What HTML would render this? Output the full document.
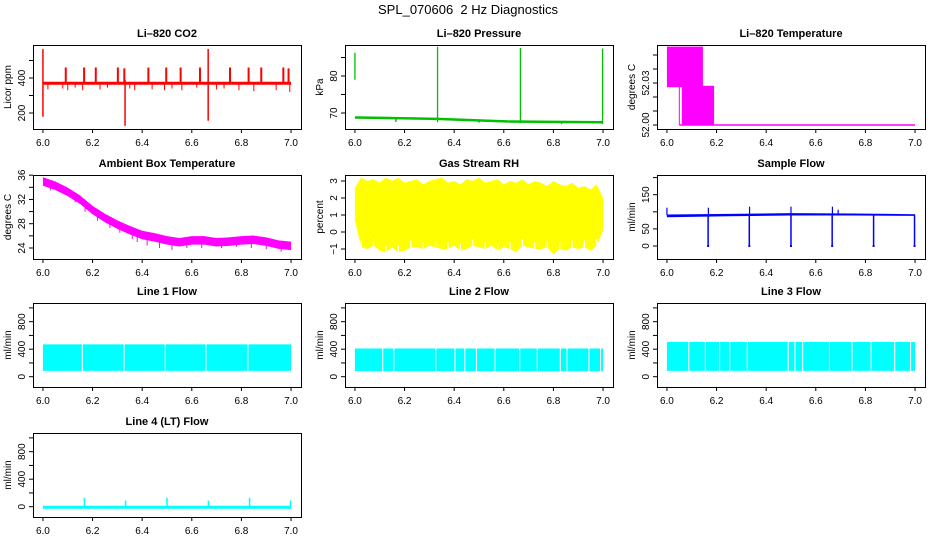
<!DOCTYPE html>
<html><head><meta charset="utf-8"><style>
html,body{margin:0;padding:0;background:#fff;}
svg{display:block;font-family:"Liberation Sans",Arial,sans-serif;}
</style></head><body>
<svg id="chart" width="936" height="540" viewBox="0 0 936 540" xmlns="http://www.w3.org/2000/svg">
<text x="468" y="14" text-anchor="middle" font-size="13" style="white-space:pre" xml:space="preserve">SPL_070606  2 Hz Diagnostics</text>
</svg>
<script>
// ---------- data ----------
const xTicks=[6.0,6.2,6.4,6.6,6.8,7.0];
const xTickLabels=["6.0","6.2","6.4","6.6","6.8","7.0"];
// CO2
const co2Base=370;
const co2UpX=[6.092,6.166,6.213,6.302,6.328,6.425,6.497,6.555,6.633,6.754,6.829,6.880,6.969,6.990];
const co2UpV=[460,460,460,460,455,460,460,460,460,460,460,460,460,455];
const co2DownX=[6.02,6.08,6.10,6.13,6.16,6.23,6.26,6.35,6.37,6.44,6.49,6.52,6.56,6.62,6.70,6.73,6.79,6.85,6.94,6.995];
const co2DownV=[335,340,330,345,330,335,345,340,330,335,330,340,330,345,335,340,330,325,330,320];
const co2BigX=[6.0,6.331,6.666];
const co2BigLo=[179,127,156];
const co2BigHi=[565,390,566];
// Pressure
const presBaseX=[6.0,6.33,6.62,7.0];
const presBaseV=[68.8,68.4,67.7,67.5];
const presSpikeX=[6.0,6.333,6.667,6.998];
const presSpikeLo=[79,67.5,67.3,67.0];
const presSpikeHi=[86.3,87.9,87.6,87.4];
const presDipX=[6.165,6.5,6.833];
const presDipV=[67.6,67.4,67.0];
// Li-820 temperature
const tempBlockX0=[6.0,6.06];
const tempBlockX1=[6.145,6.19];
const tempBlockLo=[52.027,52.0];
const tempBlockHi=[52.056,52.028];
const tempFlat=52.0;
// Ambient box temperature
const ambX=[6.0,6.05,6.1,6.15,6.2,6.25,6.3,6.35,6.4,6.45,6.5,6.55,6.6,6.65,6.7,6.75,6.8,6.85,6.9,6.95,7.0];
const ambV=[35.0,34.3,33.3,32.0,30.3,29.0,27.9,27.0,26.2,25.8,25.3,25.0,25.3,25.3,25.0,25.1,25.3,25.4,25.1,24.6,24.4];
const ambDipX=[6.03,6.13,6.17,6.22,6.27,6.31,6.36,6.38,6.42,6.47,6.52,6.58,6.64,6.72,6.78,6.84,6.9,6.96];
const ambDipV=[33.5,31.5,30.0,28.5,27.3,26.5,25.5,25.0,24.4,24.0,23.7,24.0,24.0,24.0,24.2,24.0,23.8,23.4];
// Gas stream RH
const rhX=[6.0,6.025,6.05,6.075,6.1,6.125,6.15,6.175,6.2,6.225,6.25,6.275,6.3,6.325,6.35,6.375,6.4,6.425,6.45,6.475,6.5,6.525,6.55,6.575,6.6,6.625,6.65,6.675,6.7,6.725,6.75,6.775,6.8,6.825,6.85,6.875,6.9,6.925,6.95,6.975,7.0];
const rhHi=[2.6,3.2,3.0,3.1,2.9,3.2,3.0,3.2,2.9,3.0,3.1,2.8,3.0,3.1,3.2,2.9,3.0,2.8,3.1,3.0,3.2,2.9,3.0,3.1,2.8,3.0,2.9,3.1,2.8,3.0,2.9,2.7,3.0,2.8,2.7,2.9,2.6,2.7,2.5,2.8,2.0];
const rhLo=[0.7,-0.9,-1.0,-0.8,-1.1,-1.2,-0.9,-1.2,-1.1,-0.9,-0.9,-1.0,-0.8,-0.9,-1.0,-1.0,-0.8,-1.1,-1.0,-0.8,-0.9,-1.0,-0.8,-1.1,-0.9,-1.0,-1.2,-0.8,-0.9,-1.0,-1.0,-0.9,-1.3,-1.0,-1.1,-0.9,-1.0,-0.9,-1.1,-0.8,0.1];
// Sample flow
const sfX=[6.0,6.25,6.5,6.75,7.0];
const sfLo=[84,87,89,89,88];
const sfHi=[92,94,96,95,93];
const sfDropX=[6.166,6.332,6.5,6.666,6.833,6.998];
const sfSpikeX=[6.0,6.167,6.333,6.5,6.667,6.69];
const sfSpikeV=[112,112,115,115,115,106];
// Line flows (band low/high and gap positions)
const l1Lo=85, l1Hi=470;
const l1Gaps=[6.159,6.327,6.493,6.657,6.826];
const l2Lo=80, l2Hi=410;
const l2Gaps=[6.112,6.157,6.326,6.403,6.443,6.49,6.565,6.664,6.735,6.828,6.855,6.943,6.99];
const l3Lo=85, l3Hi=505;
const l3Gaps=[6.088,6.155,6.212,6.253,6.324,6.489,6.516,6.547,6.655,6.746,6.823,6.918,6.982];
// Line 4
const l4Base=-8;
const l4SpikeX=[6.167,6.333,6.5,6.667,6.833,6.998];
const l4SpikeV=[130,90,130,90,130,90];

// ---------- layout ----------
const NS="http://www.w3.org/2000/svg";
const svg=document.getElementById('chart');
const colX=[33,345,657], rowY=[45,175,303,433], BW=268, BH=84;
function mk(tag,attrs,parent){const e=document.createElementNS(NS,tag);for(const k in attrs)e.setAttribute(k,attrs[k]);(parent||svg).appendChild(e);return e;}
let clipN=0;
function panel(r,c,title,ylab,v0,rel0,k,ticks,labels,name){
  const bx=colX[c], by=rowY[r];
  const g=mk('g',{});
  
  
  const X=v=>bx+9.93+(v-6)*248.1;
  const Y=v=>by+rel0-(v-v0)*k;
  const id='clip'+(clipN++);
  const cp=mk('clipPath',{id:id},g);mk('rect',{x:bx,y:by,width:BW,height:BH},cp);
  const plot=mk('g',{'clip-path':'url(#'+id+')'},g);
  
  
  const box=mk('rect',{x:bx+.5,y:by+.5,width:BW,height:BH,fill:'none',stroke:'#000','stroke-width':1},g);
  
  
  const t=mk('text',{x:bx+BW/2,y:by-8,'text-anchor':'middle','font-size':11,'font-weight':'bold'},g);t.textContent=title;
  
  
  xTicks.forEach((v,i)=>{const x=X(v);mk('line',{x1:x,x2:x,y1:by+BH,y2:by+BH+4,stroke:'#000'},g);
    const tl=mk('text',{x:x,y:by+BH+17,'text-anchor':'middle','font-size':10},g);tl.textContent=xTickLabels[i];
    
    });
  ticks.forEach(v=>{const y=Y(v);mk('line',{x1:bx-4,x2:bx,y1:y,y2:y,stroke:'#000'},g);});
  labels.forEach(l=>{const y=Y(l[0]);const tl=mk('text',{x:0,y:0,'text-anchor':'middle','font-size':10,transform:'translate('+(bx-8)+','+y+') rotate(-90)'},g);tl.textContent=l[1];
    
    });
  const yl=mk('text',{x:0,y:0,'text-anchor':'middle','font-size':10,transform:'translate('+(bx-22)+','+(by+BH/2)+') rotate(-90)'},g);yl.textContent=ylab;
  
  
  return {X,Y,g:plot};
}
function seg(p,x1,y1,x2,y2,col,w){return mk('line',{x1:p.X(x1),y1:p.Y(y1),x2:p.X(x2),y2:p.Y(y2),stroke:col,'stroke-width':w||1},p.g);}
function band(p,xs,lo,hi,col){let pts=xs.map((x,i)=>p.X(x)+','+p.Y(hi[i]));for(let i=xs.length-1;i>=0;i--)pts.push(p.X(xs[i])+','+p.Y(lo[i]));return mk('polygon',{points:pts.join(' '),fill:col},p.g);}
function rectV(p,x0,x1,lo,hi,col){return mk('rect',{x:p.X(x0),y:p.Y(hi),width:p.X(x1)-p.X(x0),height:p.Y(lo)-p.Y(hi),fill:col},p.g);}

// ---------- CO2 ----------
{const p=panel(0,0,'Li\u2013820 CO2','Licor ppm',400,33,0.175,[200,300,400,500],[[200,'200'],[400,'400']],'co2');
 const R='#ff0000';
 seg(p,6.0,co2Base,7.0,co2Base,R,3);
 co2UpX.forEach((x,i)=>{const s=seg(p,x,co2Base,x,co2UpV[i],R,2);});
 co2DownX.forEach((x,i)=>{const s=seg(p,x,co2Base,x,co2DownV[i],R,1);});
 co2BigX.forEach((x,i)=>{const s=seg(p,x,co2BigLo[i],x,co2BigHi[i],R,1.5);});}

// ---------- Pressure ----------
{const p=panel(0,1,'Li\u2013820 Pressure','kPa',70,68,3.7,[70,75,80,85],[[70,'70'],[80,'80']],'pressure');
 const G='#00c000';
 for(let i=0;i<presBaseX.length-1;i++)seg(p,presBaseX[i],presBaseV[i],presBaseX[i+1],presBaseV[i+1],G,2.5);
 presSpikeX.forEach((x,i)=>{const s=seg(p,x,presSpikeLo[i],x,presSpikeHi[i],G,1.3);});
 presDipX.forEach((x,i)=>{seg(p,x,presDipV[i]+0.8,x,presDipV[i],G,1.5);});}

// ---------- Li-820 temperature ----------
{const p=panel(0,2,'Li\u2013820 Temperature','degrees C',52.0,80,1400,[52.0,52.01,52.02,52.03,52.04,52.05],[[52.0,'52.00'],[52.03,'52.03']],'li820-temp');
 const M='#ff00ff';
 tempBlockX0.forEach((x,i)=>{const r=rectV(p,x,tempBlockX1[i],tempBlockLo[i],tempBlockHi[i],M);});
 seg(p,6.05,tempFlat,6.05,52.028,M,1);
 seg(p,6.05,tempFlat,7.0,tempFlat,M,1.5);}

// ---------- Ambient ----------
{const p=panel(1,0,'Ambient Box Temperature','degrees C',24,73,6.07,[24,26,28,30,32,34,36],[[24,'24'],[28,'28'],[32,'32'],[36,'36']],'ambient-temp');
 const M='#ff00ff';
 const b=band(p,ambX,ambV.map(v=>v-0.75),ambV.map(v=>v+0.65),M);
 
 ambDipX.forEach((x,i)=>{const c=ambV[Math.round((x-6)/0.05)];seg(p,x,c,x,ambDipV[i],M,1);});}

// ---------- RH ----------
{const p=panel(1,1,'Gas Stream RH','percent',0,57,17,[-1,0,1,2,3],[[-1,'\u22121'],[0,'0'],[1,'1'],[2,'2'],[3,'3']],'rh');
 const b=band(p,rhX,rhLo,rhHi,'#ffff00');
 
 rhX.forEach((x,i)=>{if(i%2)seg(p,x,rhLo[i],x,rhLo[i]+0.4,'#fff',1.2);});}

// ---------- Sample flow ----------
{const p=panel(1,2,'Sample Flow','ml/min',0,71,0.342,[0,50,100,150,200],[[0,'0'],[50,'50'],[150,'150']],'sample-flow');
 const B='#0000ff';
 const b=band(p,sfX,sfLo,sfHi,B);
 sfDropX.forEach(x=>{const s=seg(p,x,90,x,0,B,1.5);seg(p,x-0.004,0,x+0.004,0,B,2);});
 sfSpikeX.forEach((x,i)=>seg(p,x,90,x,sfSpikeV[i],B,1.2));}

// ---------- Line flows ----------
function linePanel(r,c,title,lo,hi,gaps,name){
 const p=panel(r,c,title,'ml/min',0,73.7,0.0688,[0,200,400,600,800,1000],[[0,'0'],[400,'400'],[800,'800']],name);
 const C='#00ffff';
 const b=rectV(p,6.0,7.0,lo,hi,C);
 gaps.forEach(x=>{const s=seg(p,x,lo-20,x,hi+20,'#fff',1.1);});
 return p;}
linePanel(2,0,'Line 1 Flow',l1Lo,l1Hi,l1Gaps,'line1-flow');
linePanel(2,1,'Line 2 Flow',l2Lo,l2Hi,l2Gaps,'line2-flow');
linePanel(2,2,'Line 3 Flow',l3Lo,l3Hi,l3Gaps,'line3-flow');
{const p=panel(3,0,'Line 4 (LT) Flow','ml/min',0,73.7,0.0688,[0,200,400,600,800,1000],[[0,'0'],[400,'400'],[800,'800']],'line4-flow');
 const C='#00ffff';
 const s=seg(p,6.0,l4Base,7.0,l4Base,C,3);
 l4SpikeX.forEach((x,i)=>{const q=seg(p,x,l4Base,x,l4SpikeV[i],C,1.5);});}
</script>
</body></html>
